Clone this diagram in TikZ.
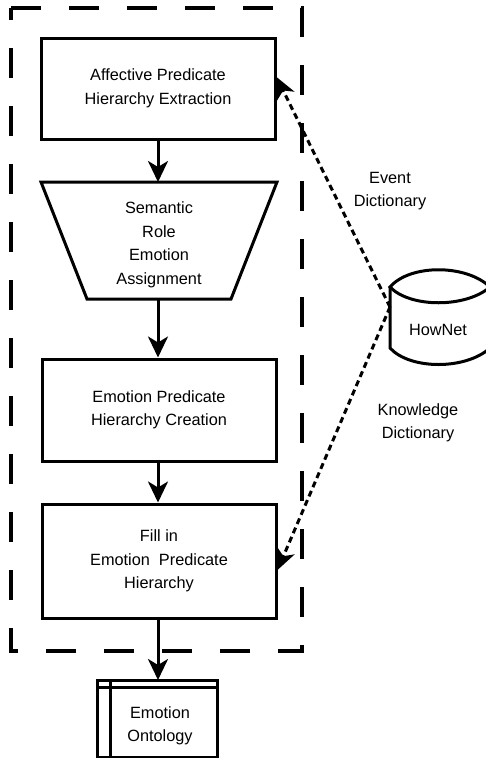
\documentclass[tikz,border=0pt]{standalone}
\usepackage{fontspec}
\setmainfont{Liberation Sans}
\usetikzlibrary{arrows.meta,calc}
\begin{document}
\begin{tikzpicture}[x=1pt,y=-1pt,
  lbl/.style={align=center,font=\fontsize{16.3}{23.5}\selectfont},
  proc/.style={draw,line width=3pt,minimum width=234pt,inner sep=0pt,align=center,font=\fontsize{16.3}{23.5}\selectfont},
  flow/.style={line width=3pt,-{Stealth[length=21pt,width=20pt,inset=6pt]}},
  dotarrow/.style={line width=3pt,dash pattern=on 6pt off 4pt,-{Stealth[length=21pt,width=19pt,inset=6pt]}},
  frame/.style={line width=3.5pt,dash pattern=on 30pt off 28pt}]
\useasboundingbox (0,0) rectangle (486,758);
% outer dashed frame
\draw[frame] (11,8) -- (302,8) -- (302,651) -- (11,651) -- cycle;
% boxes
\node[proc,minimum height=101pt] (b1) at (158,88.5) {Affective Predicate\\Hierarchy Extraction};
\draw[line width=3pt] (41,182) -- (277,182) -- (231,299) -- (87,299) -- cycle;
\node[lbl] (tr) at (159,245) {Semantic\\Role\\Emotion\\Assignment};
\coordinate (trtop) at (158,182);
\coordinate (trbot) at (158,299);
\node[proc,minimum height=102pt] (b3) at (159,410) {Emotion Predicate\\Hierarchy Creation};
\node[proc,minimum height=114pt] (b4) at (159,561) {Fill in\\Emotion\ \ Predicate\\Hierarchy};
% ontology (stored data)
\draw[line width=3pt] (97,680) rectangle (217,757);
\draw[line width=3pt] (110,680) -- (110,757);
\draw[line width=3pt] (97,687) -- (217,687);
\node[lbl] (ont) at (160,726) {Emotion\\Ontology};
\coordinate (onttop) at (158,680);
% HowNet cylinder
\draw[line width=3pt] (490,287) .. controls (466,264) and (410,264) .. (390,287)
  .. controls (410,308) and (466,308) .. (490,287);
\draw[line width=3pt] (390,287) -- (390,348) .. controls (410,370) and (466,370) .. (490,348);
\node[lbl] (hn) at (438,330) {HowNet};
\coordinate (hnl) at (390,307);
% flow arrows
\draw[flow] (b1.south -| trtop) -- (trtop);
\draw[flow] (trbot) -- (b3.north -| trbot);
\draw[flow] (b3.south -| trbot) -- (b4.north -| trbot);
\draw[flow] (b4.south -| trbot) -- (onttop);
% dotted connectors
\draw[dotarrow] (hnl) -- ([yshift=11.5pt]b1.east);
\draw[dotarrow] (hnl) -- ([yshift=-9pt]b4.east);
% labels
\node[lbl] (ev) at (390,191) {Event\\Dictionary};
\node[lbl] (kn) at (418,423) {Knowledge\\Dictionary};
\end{tikzpicture}
\end{document}
